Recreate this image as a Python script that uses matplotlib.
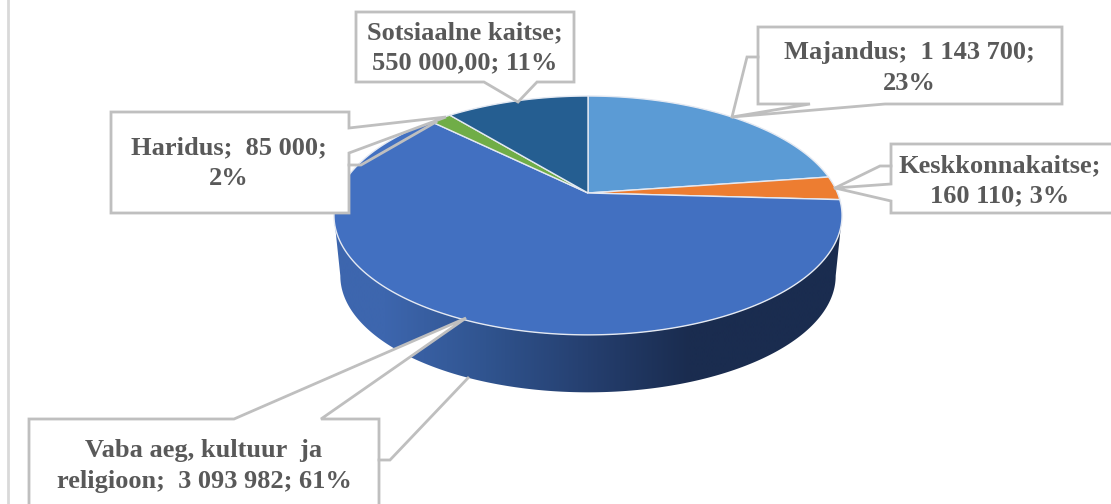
import matplotlib

matplotlib.use("Agg")
import matplotlib.pyplot as plt
import numpy as np
from matplotlib.patches import Polygon

# Andmed (kellaosuti suunas alates ülevalt)
KATEGOORIAD = ["Majandus", "Keskkonnakaitse", "Vaba aeg, kultuur ja religioon", "Haridus", "Sotsiaalne kaitse"]
VAARTUSED = [1143700, 160110, 3093982, 85000, 550000]
VARVID = ["#5b9bd5", "#ed7d31", "#4270c1", "#70ad47", "#255e91"]
SILDID = [
    "Majandus;  1 143 700;\n23%",
    "Keskkonnakaitse;\n160 110; 3%",
    "Vaba aeg, kultuur  ja\nreligioon;  3 093 982; 61%",
    "Haridus;  85 000;\n2%",
    "Sotsiaalne kaitse;\n550 000,00; 11%",
]

# Sildi keskpunkt pikslites
SILDI_ASUKOHT = [(909, 68), (1000, 181), (204, 466), (229, 163), (465, 48)]

# Viiktekstide kastid (piksleid, ringjoon koos teravikuga)
KASTID = [
    [(758, 27), (1062, 27), (1062, 104), (885, 104), (732, 117), (810, 104), (758, 104)],
    [(891, 144), (1115, 144), (1115, 213), (891, 213), (891, 201), (835, 188), (891, 184)],
    [(29, 419), (234, 419), (466, 318), (321, 419), (379, 419), (379, 510), (29, 510)],
    [(111, 112), (349, 112), (349, 128), (446, 117), (349, 153), (349, 213), (111, 213)],
    [(356, 12), (574, 12), (574, 82), (537, 82), (518, 102), (484, 82), (356, 82)],
]
JUHTJOONED = [
    [(732, 117), (747, 57), (758, 57)],
    [(835, 188), (880, 166), (891, 166)],
    [(379, 460), (390, 460), (468, 378)],
    [(349, 165), (361, 165), (436, 122)],
]

# Perspektiiv: ketta keskpunkt ja mõõdud pikslites
CX, CY = 588, 193
RX, RY, K = 249.5, 115.2, 0.188
SYGAVUS = 61
JOON = "#bfbfbf"
SEINA_VARVID = ["#3d66ae", "#30548f", "#253f6f", "#1a2c4f", "#1a2c4f"]


def serv(theta, nihe=0.0, skaala=1.0):
    """Ringjoone punkt perspektiivis, theta kraadides kellaosuti suunas."""
    t = np.radians(theta)
    x, y = np.sin(t), np.cos(t)
    n = 1 + K * y
    return CX + skaala * RX * x / n, CY + nihe - skaala * RY * y / n


fig = plt.figure(figsize=(11.11, 5.04), dpi=100)
ax = fig.add_axes([0, 0, 1, 1])

# Külgsein gradiendiga: ainult laiemate punktide vahel, et servad oleks sirged
th = np.linspace(100.8, 259.2, 300)
xt, yt = serv(th)
xb, yb = serv(th, SYGAVUS, 0.975)
sein = Polygon(np.r_[np.c_[xt, yt], np.c_[xb, yb][::-1]], closed=True, fc="none", ec="none")
ax.add_patch(sein)
gradient = np.array([[matplotlib.colors.to_rgb(c) for c in SEINA_VARVID]])
pilt = ax.imshow(gradient, extent=(334, 842, 504, 0), aspect="auto", interpolation="bilinear", zorder=1)
pilt.set_clip_path(sein)
ax.set_xlim(0, 1111)
ax.set_ylim(504, 0)
ax.axis("off")

# Sektorid väärtustest
osad = np.array(VAARTUSED) / sum(VAARTUSED) * 360
algus = 0.0
for osa, varv in zip(osad, VARVID):
    nurgad = np.linspace(algus, algus + osa, max(int(osa) * 2, 8))
    x, y = serv(nurgad)
    ax.add_patch(Polygon(np.r_[[(CX, CY)], np.c_[x, y]], closed=True, fc=varv, ec="#e4e9f2", lw=1.0, zorder=2))
    algus += osa

# Viiktekstid
for kast in KASTID:
    ax.add_patch(Polygon(kast, closed=True, fc="white", ec=JOON, lw=2, joinstyle="miter", zorder=3))
for joon in JUHTJOONED:
    px, py = zip(*joon)
    ax.plot(px, py, color=JOON, lw=2, solid_joinstyle="miter", zorder=3)
for silt, (sx, sy) in zip(SILDID, SILDI_ASUKOHT):
    ax.text(sx, sy, silt, ha="center", va="center", family="Liberation Serif", weight="bold",
            fontsize=19, color="#595959", linespacing=1.42, zorder=4)

# Vasak raamijoon
ax.plot([8, 8], [0, 504], color="#d9d9d9", lw=2)

fig.savefig("out.png", dpi=100)
